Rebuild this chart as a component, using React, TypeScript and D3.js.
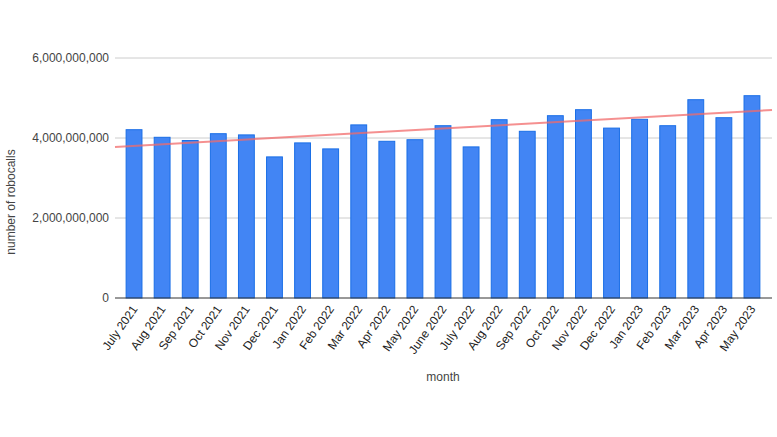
import React from "react";
import * as d3 from "d3";

const months = [
  "July 2021", "Aug 2021", "Sep 2021", "Oct 2021", "Nov 2021", "Dec 2021",
  "Jan 2022", "Feb 2022", "Mar 2022", "Apr 2022", "May 2022", "June 2022",
  "July 2022", "Aug 2022", "Sep 2022", "Oct 2022", "Nov 2022", "Dec 2022",
  "Jan 2023", "Feb 2023", "Mar 2023", "Apr 2023", "May 2023",
];
const robocalls = [
  4.22e9, 4.03e9, 3.95e9, 4.12e9, 4.09e9, 3.54e9,
  3.89e9, 3.74e9, 4.34e9, 3.93e9, 3.97e9, 4.32e9,
  3.79e9, 4.47e9, 4.18e9, 4.57e9, 4.72e9, 4.26e9,
  4.48e9, 4.32e9, 4.97e9, 4.52e9, 5.07e9,
];
const yTicks = [0, 2e9, 4e9, 6e9];

const W = 777, H = 437;
const plotLeft = 115, plotRight = 772, plotTop = 58, plotBottom = 298;
const FONT = "Liberation Sans, Arial, sans-serif";

export default function App() {
  const x = d3.scaleBand<string>().domain(months).range([120, 766]).paddingInner(0.4).paddingOuter(0.2);
  const y = d3.scaleLinear().domain([0, 6e9]).range([plotBottom, plotTop]);
  const fmt = d3.format(",");

  // linear regression trendline on index
  const n = robocalls.length;
  const xs = d3.range(n);
  const mx = d3.mean(xs)!, my = d3.mean(robocalls)!;
  let sxy = 0, sxx = 0;
  xs.forEach((i) => { sxy += (i - mx) * (robocalls[i] - my); sxx += (i - mx) * (i - mx); });
  const slope = sxy / sxx, intercept = my - slope * mx;
  const c0 = x(months[0])! + x.bandwidth() / 2;
  const step = x.step();
  const idxAt = (px: number) => (px - c0) / step;
  const trend = d3.line<number>()
    .x((px) => px)
    .y((px) => y(intercept + slope * idxAt(px)));

  return (
    <svg width={W} height={H} style={{ position: "absolute", left: 0, top: 0, background: "#fff" }}>
      <rect width={W} height={H} fill="#fff" />
      {yTicks.map((t) => (
        <g key={t}>
          {t !== 0 && <line x1={plotLeft} x2={plotRight} y1={y(t)} y2={y(t)} stroke="#cccccc" strokeWidth={1} />}
          <text x={109} y={y(t) + 4} textAnchor="end" fontFamily={FONT} fontSize={12} fill="#444">{fmt(t)}</text>
        </g>
      ))}
      {months.map((m, i) => (
        <rect key={m} x={x(m)! + 0.5} y={y(robocalls[i]) + 0.5} width={x.bandwidth() - 1}
          height={plotBottom - y(robocalls[i]) - 0.5} fill="#4285F4" stroke="#1a6ee6" strokeWidth={1} />
      ))}
      <line x1={plotLeft} x2={plotRight} y1={plotBottom} y2={plotBottom} stroke="#333" strokeWidth={1} />
      <path d={trend([plotLeft, plotRight])!} stroke="#f26b6b" strokeOpacity={0.75} strokeWidth={2} fill="none" />
      {months.map((m) => {
        const cx = x(m)! + x.bandwidth() / 2 + 4;
        return (
          <text key={m} transform={`translate(${cx},${plotBottom + 11}) rotate(-55)`} textAnchor="end"
            fontFamily={FONT} fontSize={12} fill="#222">{m}</text>
        );
      })}
      <text x={443} y={381} textAnchor="middle" fontFamily={FONT} fontSize={12} fill="#444">month</text>
      <text transform={`translate(15,202) rotate(-90)`} textAnchor="middle" fontFamily={FONT} fontSize={12} fill="#444">number of robocalls</text>
    </svg>
  );
}
